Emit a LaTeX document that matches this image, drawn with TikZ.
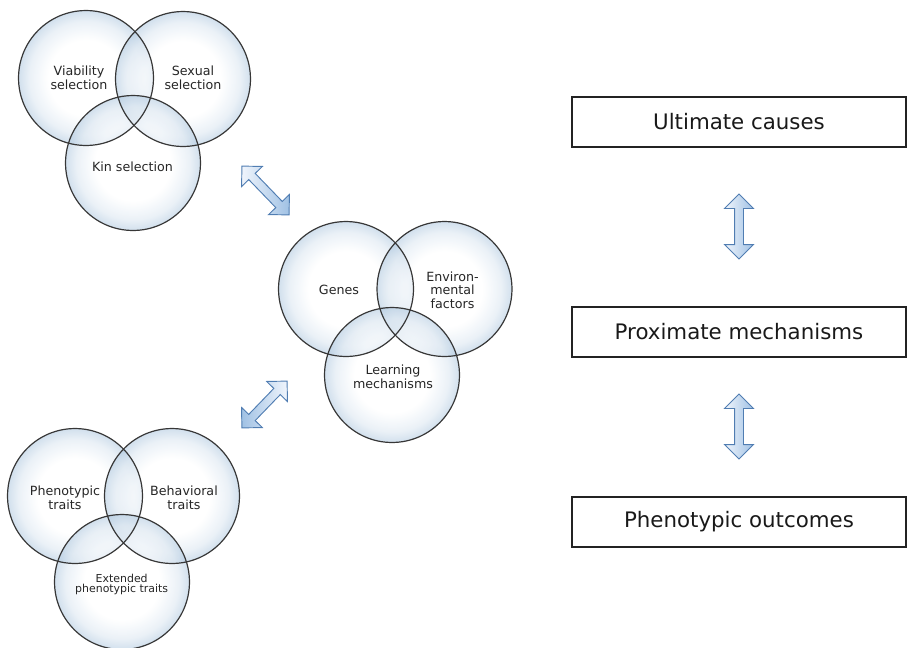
\documentclass[tikz,border=0pt]{standalone}
\usepackage{fontspec}
\setmainfont{DejaVu Sans}
\usetikzlibrary{shapes.arrows}
\definecolor{bubedge}{RGB}{172,198,222}
\definecolor{ringcol}{RGB}{55,55,55}
\definecolor{arrline}{RGB}{80,125,178}
\definecolor{arrlight}{RGB}{240,245,252}
\definecolor{arrdark}{RGB}{160,193,228}
\definecolor{boxline}{RGB}{35,35,35}
\pgfdeclareradialshading{bubbleshade}{\pgfpoint{0bp}{0bp}}{color(0bp)=(white); color(14bp)=(white); color(21bp)=(bubedge!45); color(25bp)=(bubedge); color(50bp)=(bubedge)}
\tikzset{
  bubble/.style={circle, minimum size=101.25pt, inner sep=0pt, shade, shading=bubbleshade, fill opacity=0.55},
  ring/.style={draw=ringcol, line width=0.9pt},
  ctext/.style={align=center, font=\fontsize{9.5}{10.2}\selectfont, text=black!85},
  stext/.style={align=center, font=\fontsize{8.2}{8.2}\selectfont, text=black!85},
  dblarrow/.style={double arrow, inner sep=3pt, double arrow head extend=7.5pt, draw=arrline, line width=0.7pt, minimum height=48.75pt},
  bigbox/.style={draw=boxline, line width=1.1pt, minimum width=250.5pt, minimum height=37.5pt, inner sep=0pt, font=\fontsize{16}{16}\selectfont, text=black!90}
}
\begin{document}
\begin{tikzpicture}[x=0.75pt, y=-0.75pt]
\useasboundingbox (0,0) rectangle (907,647);
% top group
\node[bubble] (via) at (86,78) {};
\node[bubble] (sex) at (183,79) {};
\node[bubble] (kin) at (133,163) {};
% middle group
\node[bubble] (gen) at (346,289) {};
\node[bubble] (env) at (444.5,289) {};
\node[bubble] (lea) at (392,375) {};
% bottom group
\node[bubble] (phe) at (75,496) {};
\node[bubble] (beh) at (172,496) {};
\node[bubble] (ext) at (122,582) {};
\foreach \n in {via,sex,kin,gen,env,lea,phe,beh,ext}
  \draw[ring] (\n.center) circle[radius=50.6pt];
% texts
\node[ctext] (tvia) at (79,78) {Viability\\selection};
\node[ctext] (tsex) at (193,78) {Sexual\\selection};
\node[ctext] (tkin) at (132.5,167) {Kin selection};
\node[ctext] (tgen) at (339,290) {Genes};
\node[ctext] (tenv) at (452.5,290) {Environ-\\mental\\factors};
\node[ctext] (tlea) at (393,377) {Learning\\mechanisms};
\node[ctext] (tphe) at (65,497.5) {Phenotypic\\traits};
\node[ctext] (tbeh) at (184,497.5) {Behavioral\\traits};
\node[stext] (text) at (121.7,584.5) {Extended\\phenotypic traits};
% diagonal arrows
\node[dblarrow, rotate=-46, minimum height=50.9pt, left color=arrlight, right color=arrdark] (d1) at (265.5,190.5) {};
\node[dblarrow, rotate=46, minimum height=48.8pt, left color=arrdark, right color=arrlight] (d2) at (264.5,404.5) {};
% boxes
\node[bigbox] (ult) at (739,122) {Ultimate causes};
\node[bigbox] (pro) at (739,332) {Proximate mechanisms};
\node[bigbox] (out) at (739,522) {Phenotypic outcomes};
% vertical arrows
\node[dblarrow, rotate=-90, left color=arrlight, right color=arrdark] (v1) at (739,226.5) {};
\node[dblarrow, rotate=-90, left color=arrlight, right color=arrdark] (v2) at (739,426.5) {};
\end{tikzpicture}
\end{document}
